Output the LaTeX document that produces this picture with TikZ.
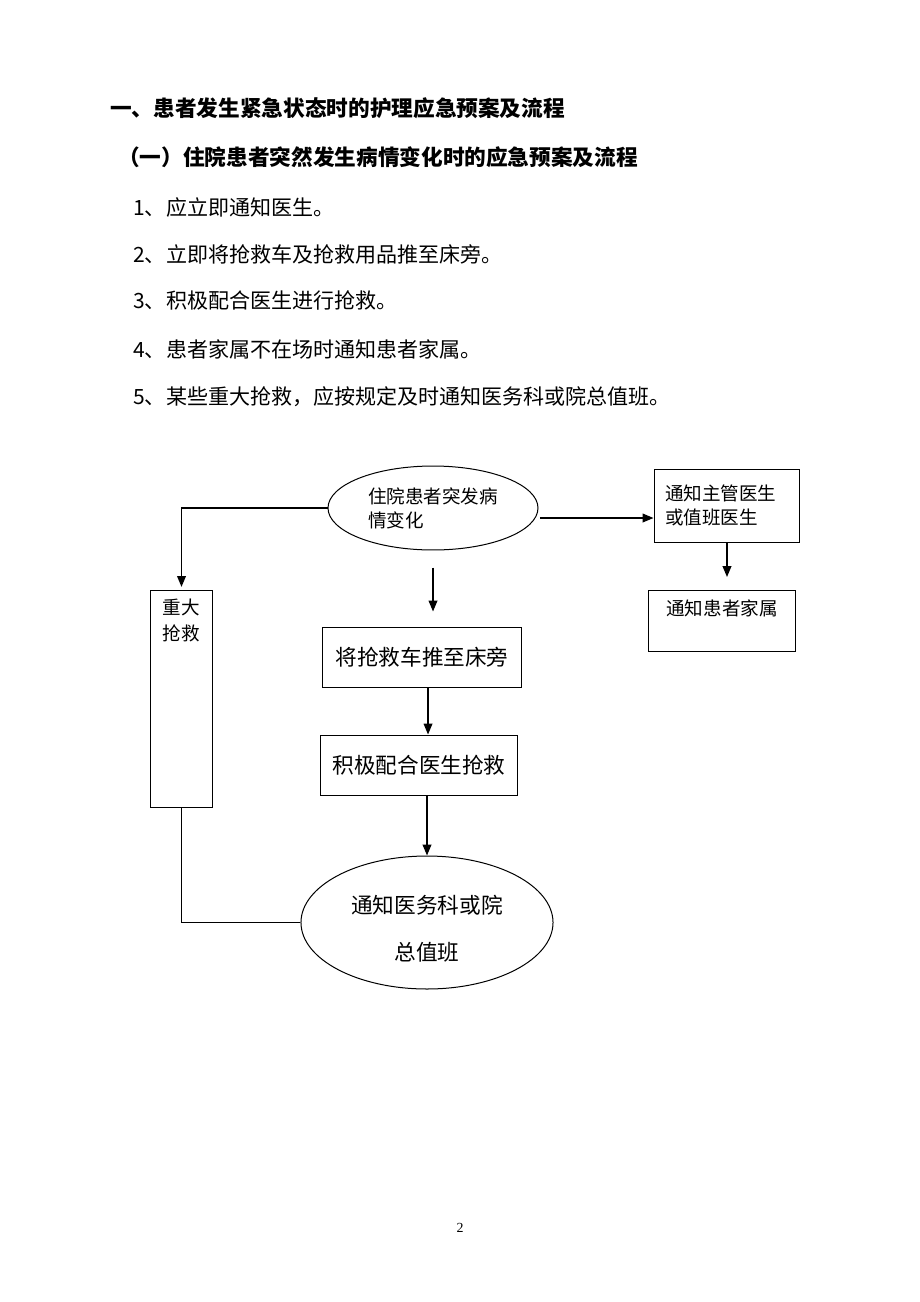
\documentclass[tikz,border=0pt]{standalone}
\usepackage{fontspec}
\setmainfont{Noto Sans CJK SC}
\newfontfamily\pagefont{Liberation Serif}
\usetikzlibrary{shapes.geometric,arrows.meta}
\newcommand{\pxu}{0.6467pt}

\begin{document}
\begin{tikzpicture}[x=\pxu, y=-\pxu,
  title/.style={anchor=west, inner sep=0pt, font=\bfseries\fontsize{14}{17}\selectfont},
  itemtext/.style={anchor=west, inner sep=0pt, font=\fontsize{13.6}{17}\selectfont},
  box/.style={draw, rectangle, line width=0.65pt, inner sep=0pt},
  oval/.style={draw, ellipse, line width=0.65pt, inner sep=0pt},
  arr/.style={line width=0.9pt, -{Triangle[length=7pt,width=5.6pt]}}]
  \useasboundingbox (0,0) rectangle (920,1302);

  % text above the chart
  \draw[]
   (110,108) node[title] (t1) {一、患者发生紧急状态时的护理应急预案及流程}
   (118,157) node[title] (t2) {（一）住院患者突然发生病情变化时的应急预案及流程}
   (133,207) node[itemtext] (s1) {1、应立即通知医生。}
   (133,254) node[itemtext] (s2) {2、立即将抢救车及抢救用品推至床旁。}
   (133,300) node[itemtext] (s3) {3、积极配合医生进行抢救。}
   (133,349) node[itemtext] (s4) {4、患者家属不在场时通知患者家属。}
   (133,397) node[itemtext] (s5) {5、某些重大抢救，应按规定及时通知医务科或院总值班。};

  % the chart
  \draw[]
   (433,508) node[oval, minimum width=135.8pt, minimum height=54.3pt, align=left,
     font=\fontsize{12}{15.5}\selectfont] (change) {住院患者突发病\\情变化}
   (727,505.5) node[box, minimum width=94.4pt, minimum height=47.2pt, text width=80pt,
     font=\fontsize{12}{15.5}\selectfont] (doctor) {通知主管医生\\或值班医生}
   (722,590) node[box, anchor=north, minimum width=95.7pt, text height=16.2pt, text depth=23.3pt,
     font=\fontsize{12}{15.5}\selectfont] (family) {通知患者家属}
   (181.5,590) node[box, anchor=north, minimum width=40.7pt, align=center, text height=32.3pt,
     text depth=108pt, font=\fontsize{12}{16.8}\selectfont] (major) {重大\\抢救}
   (422,657) node[box, minimum width=129.3pt, minimum height=38.8pt,
     font=\fontsize{14}{17}\selectfont] (cart) {将抢救车推至床旁}
   (419,765) node[box, minimum width=128pt, minimum height=38.8pt,
     font=\fontsize{14}{17}\selectfont] (rescue) {积极配合医生抢救}
   (427,922.5) node[oval, minimum width=163pt, minimum height=86pt, align=center,
     text height=51.7pt, text depth=3.2pt,
     font=\fontsize{14}{30.4}\selectfont] (office) {通知医务科或院\\总值班}
   (460,1228) node[font=\pagefont\fontsize{9}{11}\selectfont] (pageno) {2};

  \coordinate (rightstart) at (540,518);

  \draw[arr, shorten >=2pt] (change.west) -| (major.north);
  \draw[arr] (rightstart) -- (rightstart -| doctor.west);
  \draw[arr, shorten >=8.4pt] (doctor.south) -- (doctor.south |- family.north);
  \draw[arr, shorten <=11pt, shorten >=9.7pt] (change.south) -- (change.south |- cart.north);
  \draw[arr] ([xshift=3.9pt]cart.south) -- ([xshift=3.9pt]cart.south |- rescue.north);
  \draw[arr] (office.north |- rescue.south) -- (office.north);
  \draw[line width=0.65pt] (major.south) |- (office.west);

 \end{tikzpicture}
\end{document}
